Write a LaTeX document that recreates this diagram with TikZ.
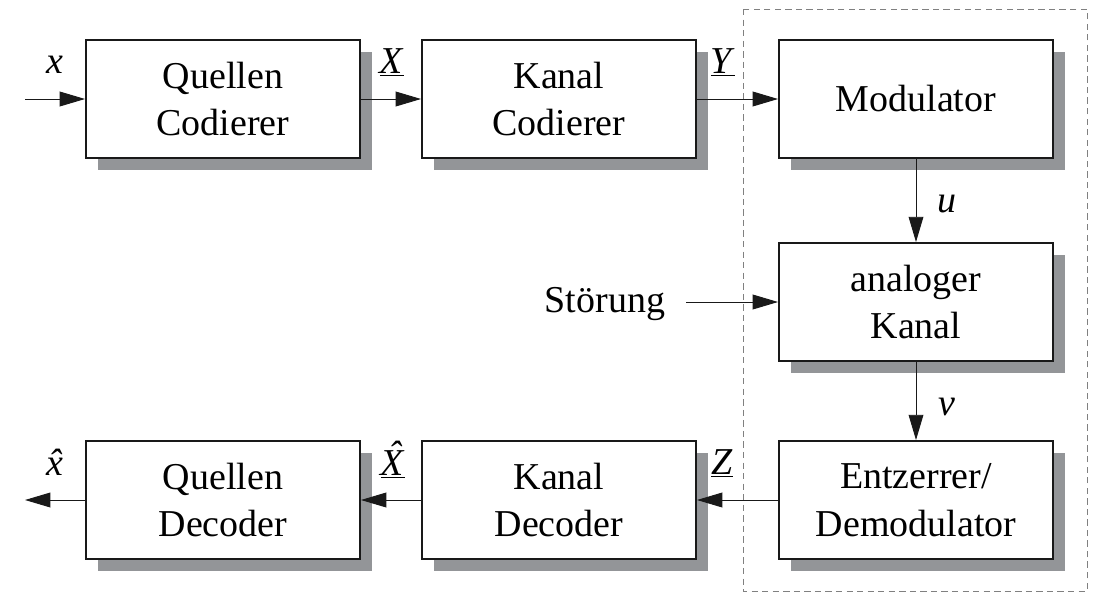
\documentclass[tikz,border=0pt]{standalone}
\usepackage{fontspec}
\setmainfont{Liberation Serif}
\usetikzlibrary{arrows.meta,shadows}
\definecolor{shadowgray}{HTML}{939598}
\definecolor{dashgray}{HTML}{808080}
\newcommand{\hatletter}[1]{\accent"02C6 #1}
\begin{document}
\begin{tikzpicture}[x=0.025cm,y=-0.025cm,
 blk/.style={draw=black!90, line width=1.3pt, fill=white, minimum width=6.85cm, minimum height=2.95cm, align=center, inner sep=0pt, font=\fontsize{27}{34}\selectfont, drop shadow={shadow xshift=0.3cm, shadow yshift=-0.3cm, fill=shadowgray, opacity=1}},
 arr/.style={-{Triangle[length=18pt,width=10.5pt]}, line width=0.7pt, draw=black!90, fill=black!90},
 lbl/.style={anchor=base, inner sep=0pt, font=\fontsize{27}{30}\selectfont},
 frame/.style={draw=dashgray, line width=0.7pt, dash pattern=on 4.5pt off 3pt}]
\useasboundingbox (0,0) rectangle (1100,599);
\draw[frame] (743,9) rectangle (1087,591);
\node[blk] (qc) at (223,99) {Quellen\\Codierer};
\node[blk] (kc) at (559,99) {Kanal\\Codierer};
\node[blk] (mod) at (916,99) {Modulator};
\node[blk] (ak) at (916,302) {analoger\\Kanal};
\node[blk] (ed) at (916,500) {Entzerrer/\\Demodulator};
\node[blk] (kd) at (559,500) {Kanal\\Decoder};
\node[blk] (qd) at (223,500) {Quellen\\Decoder};
\coordinate (in) at (25,99);
\coordinate (out) at (25,500);
\coordinate (st) at (686,302);
\node[lbl, anchor=base] (sttxt) at (605,312) {Störung};
\draw[arr] (in) -- (qc.west);
\draw[arr] (qc) -- (kc);
\draw[arr] (kc) -- (mod);
\draw[arr] (mod) -- (ak);
\draw[arr] (ak) -- (ed);
\draw[arr] (st) -- (ak.west);
\draw[arr] (ed) -- (kd);
\draw[arr] (kd) -- (qd);
\draw[arr] (qd.west) -- (out);
\node[lbl] (lx) at (55,73) {\textit{x}};
\node[lbl] (lX) at (392,73) {\underline{\textit{X}}};
\node[lbl] (lY) at (723,73) {\underline{\textit{Y}}};
\node[lbl] (lu) at (947,212) {\textit{u}};
\node[lbl] (lv) at (947,415) {\textit{v}};
\node[lbl] (lZ) at (722,474) {\underline{\textit{Z}}};
\node[lbl] (lXh) at (393,475) {\underline{\textit{\hatletter{X}}}};
\node[lbl] (lxh) at (55,475) {\textit{\hatletter{x}}};
\end{tikzpicture}
\end{document}
